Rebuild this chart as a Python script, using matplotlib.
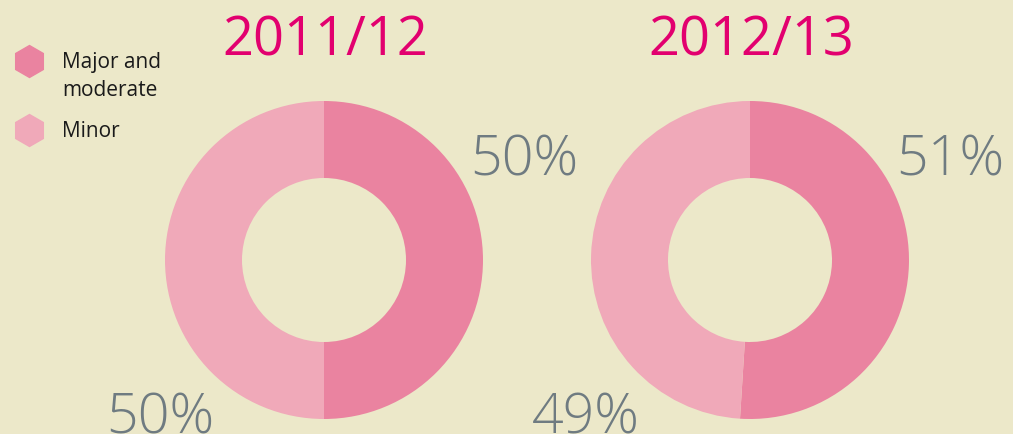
import matplotlib.pyplot as plt

years = ['2011/12', '2012/13']
categories = ['Major and\nmoderate', 'Minor']
major = [50, 51]
minor = [50, 49]

bg = '#ECE8C9'
colors = ['#EA83A0', '#F0A9B9']
title_col = '#E2006F'
pct_col = '#6F7B81'

fig = plt.figure(figsize=(10.13, 4.35), dpi=100, facecolor=bg)
ax = fig.add_axes([0, 0, 1, 1])
ax.set_facecolor(bg)

H = 435
centers_x = [324, 750]
for i, yr in enumerate(years):
    cx = centers_x[i]
    ax.pie([major[i], minor[i]], radius=159, center=(cx, H - 261),
           startangle=90, counterclock=False, colors=colors,
           wedgeprops=dict(width=77, linewidth=0))
    ax.text(cx + 1, H - 55, yr, color=title_col, fontsize=39,
            family='Open Sans', ha='center', va='baseline')
    ax.text(cx + 146, H - 175, f'{major[i]}%', color=pct_col, fontsize=40,
            weight='light', family='Open Sans', ha='left', va='baseline')
    ax.text(cx - 218, H - 434, f'{minor[i]}%', color=pct_col, fontsize=40,
            weight='light', family='Open Sans', ha='left', va='baseline')

# legend
leg_y = [62, 131]
for c, lab, y in zip(colors, categories, leg_y):
    ax.plot([29], [H - y], marker='h', markersize=23, color=c, linestyle='none')
    ax.text(62, H - y + 10, lab, color='#1a1a1a',
            fontsize=15, family='Open Sans', ha='left', va='top', linespacing=1.45)

ax.set_xlim(0, 1013)
ax.set_ylim(0, H)
ax.set_aspect('auto')
ax.set_axis_off()

fig.savefig('out.png', dpi=100, facecolor=bg)
